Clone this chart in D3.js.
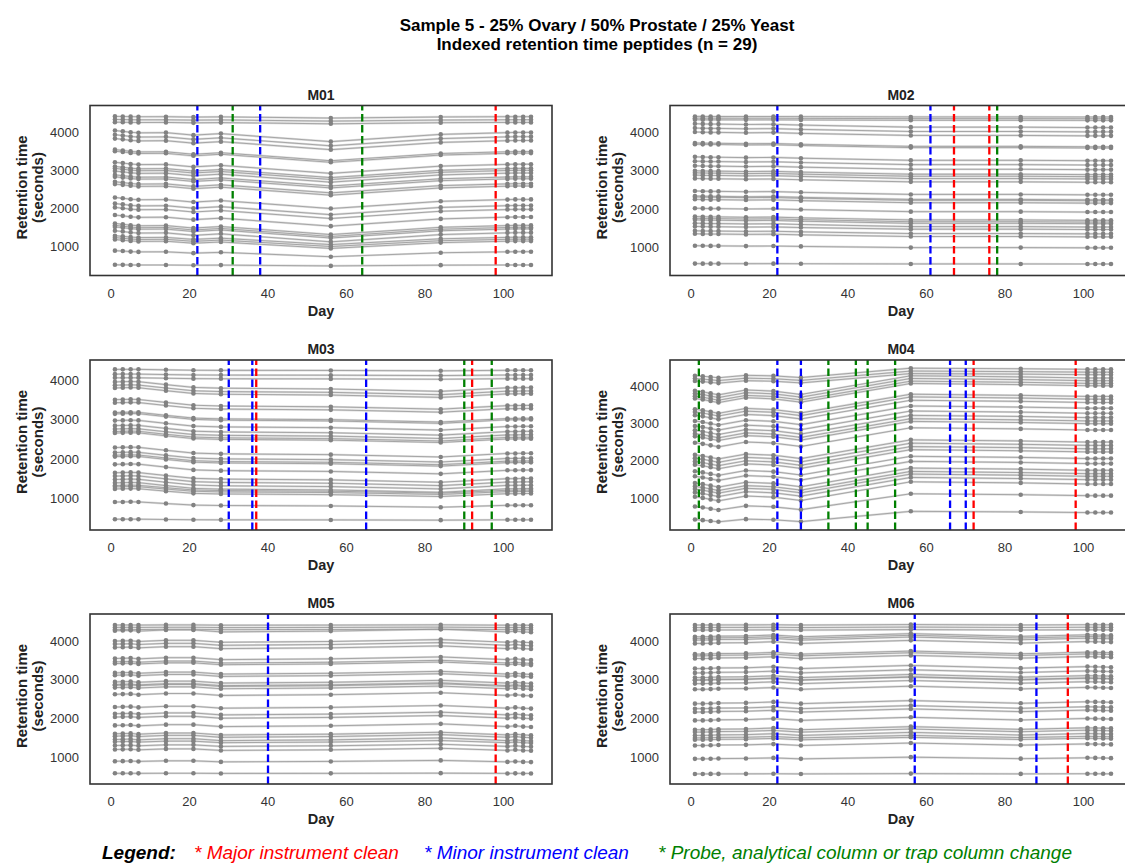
<!DOCTYPE html>
<html>
<head>
<meta charset="utf-8">
<script src="https://cdnjs.cloudflare.com/ajax/libs/d3/7.8.5/d3.min.js"></script>
<style>
body { margin: 0; background: #fff; }
text { font-family: "Liberation Sans", Arial, sans-serif; }
</style>
</head>
<body>
<script>
// sampling days, same for every instrument
var days = [1, 3, 5, 7, 14, 21, 28, 56, 84, 101, 103, 105, 107];

var instruments = ["M01", "M02", "M03", "M04", "M05", "M06"];

// retention time (s) of the 29 iRT peptides on day 1, per instrument
var baseM01 = [4410, 4330, 4260, 4040, 3930, 3830, 3540, 3500, 3210, 3100, 3050, 2980, 2880, 2830, 2700, 2640, 2290, 2130, 2030, 1830, 1610, 1560, 1520, 1420, 1290, 1240, 1190, 900, 530];
var baseM02 = [4425, 4380, 4338, 4234, 4121, 4017, 3731, 3700, 3367, 3254, 3133, 3003, 2950, 2890, 2803, 2474, 2343, 2320, 2257, 2023, 1806, 1760, 1719, 1632, 1546, 1433, 1355, 1043, 574];
var baseM03 = [4273, 4153, 4060, 3957, 3872, 3804, 3506, 3429, 3180, 3148, 2977, 2849, 2764, 2700, 2662, 2295, 2168, 2100, 2065, 1869, 1656, 1571, 1486, 1401, 1333, 1300, 1247, 915, 480];
var baseM04 = [4276, 4200, 4133, 3874, 3802, 3730, 3668, 3381, 3309, 3220, 3067, 2933, 2816, 2727, 2655, 2485, 2162, 2073, 1983, 1900, 1723, 1588, 1409, 1319, 1248, 1158, 1042, 782, 433];
var baseM05 = [4415, 4354, 4300, 4268, 4000, 3922, 3836, 3551, 3464, 3420, 3179, 3118, 2946, 2880, 2859, 2799, 2626, 2297, 2124, 2038, 1822, 1606, 1545, 1459, 1400, 1304, 1200, 897, 585];
var baseM06 = [4415, 4350, 4285, 4112, 4070, 4026, 3939, 3663, 3620, 3551, 3291, 3179, 3058, 3000, 2989, 2902, 2755, 2384, 2254, 2168, 1952, 1710, 1649, 1563, 1500, 1451, 1304, 958, 569];

// drift (s) of the mid-gradient peptides on each sampling day
var shiftM01 = [0, -20, -45, -60, -55, -120, -80, -290, -100, -55, -50, -50, -50];
var shiftM02 = [0, -5, -10, -10, -20, -15, -35, -90, -90, -100, -100, -100, -100];
var shiftM03 = [0, 5, 10, 5, -70, -140, -160, -180, -240, -150, -150, -145, -145];
var shiftM04 = [0, -30, -70, -110, 20, -10, -100, 400, 370, 340, 340, 340, 340];
var shiftM05 = [0, 5, 10, -10, 20, 20, -30, -10, 40, -30, -10, -30, -40];
var shiftM06 = [0, 0, 5, 15, 20, 45, 0, 80, 10, 50, 45, 40, 35];

// how much each peptide follows that drift (ends of the gradient move less)
var weightShared = [0.15, 0.15, 0.15, 1, 1, 1, 1, 1, 1, 1, 1, 1, 1, 1, 1, 1, 1, 1, 1, 1, 1, 1, 1, 1, 0.8, 0.8, 0.8, 0.55, 0.1];
var weightM04 = [0.5, 0.5, 0.5, 1, 1, 1, 1, 1, 1, 1, 1, 1, 1, 1, 1, 1, 1, 1, 1, 1, 1, 1, 1, 1, 1, 1, 1, 0.85, 0.55];

// y limits of each panel
var yLimM01 = [250, 4695], yLimM02 = [263, 4711], yLimM03 = [207, 4511],
    yLimM04 = [154, 4695], yLimM05 = [309, 4700], yLimM06 = [309, 4700];
var xLim = [-5.35, 112.35];
var xTicks = [0, 20, 40, 60, 80, 100];
var yTicks = [1000, 2000, 3000, 4000];

// instrument events (day)
var majorM01 = [98], minorM01 = [22, 38], probeM01 = [31, 64];
var majorM02 = [67, 76], minorM02 = [22, 61], probeM02 = [78];
var majorM03 = [37, 92], minorM03 = [30, 36, 65], probeM03 = [90, 97];
var majorM04 = [72, 98], minorM04 = [22, 28, 66, 70], probeM04 = [2, 35, 42, 45, 52];
var majorM05 = [98], minorM05 = [40], probeM05 = [];
var majorM06 = [96], minorM06 = [22, 57, 88], probeM06 = [];

var panels = [
    {name: "M01", base: baseM01, shift: shiftM01, weight: weightShared, ylim: yLimM01, major: majorM01, minor: minorM01, probe: probeM01},
    {name: "M02", base: baseM02, shift: shiftM02, weight: weightShared, ylim: yLimM02, major: majorM02, minor: minorM02, probe: probeM02},
    {name: "M03", base: baseM03, shift: shiftM03, weight: weightShared, ylim: yLimM03, major: majorM03, minor: minorM03, probe: probeM03},
    {name: "M04", base: baseM04, shift: shiftM04, weight: weightM04, ylim: yLimM04, major: majorM04, minor: minorM04, probe: probeM04},
    {name: "M05", base: baseM05, shift: shiftM05, weight: weightShared, ylim: yLimM05, major: majorM05, minor: minorM05, probe: probeM05},
    {name: "M06", base: baseM06, shift: shiftM06, weight: weightShared, ylim: yLimM06, major: majorM06, minor: minorM06, probe: probeM06}
];

//begin drawing
var width = 1125,
    height = 863;

var svg = d3.select("body")
    .append("svg")
    .attr("width", width)
    .attr("height", height);

//two line title
svg.append("text")
    .attr("x", 597).attr("y", 31)
    .attr("text-anchor", "middle")
    .style("font-size", "17px").style("font-weight", "bold")
    .text("Sample 5 - 25% Ovary / 50% Prostate / 25% Yeast");
svg.append("text")
    .attr("x", 597).attr("y", 50)
    .attr("text-anchor", "middle")
    .style("font-size", "17px").style("font-weight", "bold")
    .text("Indexed retention time peptides (n = 29)");

//panel grid
var colX = [90, 670],
    rowY = [105.5, 360, 614],
    pw = 462,
    ph = 170;

panels.forEach(function(p, i){
    var x0 = colX[i % 2],
        y0 = rowY[Math.floor(i / 2)];

    var x = d3.scaleLinear().domain(xLim).range([x0, x0 + pw]);
    var y = d3.scaleLinear().domain(p.ylim).range([y0 + ph, y0]);

    var g = svg.append("g").attr("class", "panel " + p.name);

    //one series per peptide
    var series = p.base.map(function(b, k){
        return days.map(function(d, j){
            return {day: d, rt: b + p.shift[j] * p.weight[k]};
        });
    });

    var line = d3.line()
        .x(function(d){ return x(d.day); })
        .y(function(d){ return y(d.rt); });

    g.selectAll(".halo")
        .data(series)
        .enter()
        .append("path")
        .attr("class", "halo")
        .attr("d", line)
        .attr("fill", "none")
        .attr("stroke", "#dcdcdc")
        .attr("stroke-width", 2.2);

    g.selectAll(".pep")
        .data(series)
        .enter()
        .append("path")
        .attr("class", "pep")
        .attr("d", line)
        .attr("fill", "none")
        .attr("stroke", "#959595")
        .attr("stroke-opacity", 0.85)
        .attr("stroke-width", 0.9);

    g.selectAll(".pt")
        .data(d3.merge(series))
        .enter()
        .append("circle")
        .attr("class", "pt")
        .attr("cx", function(d){ return x(d.day); })
        .attr("cy", function(d){ return y(d.rt); })
        .attr("r", 2.3)
        .attr("fill", "#828282");

    //event lines
    var events = [];
    p.probe.forEach(function(d){ events.push({day: d, color: "#008000"}); });
    p.minor.forEach(function(d){ events.push({day: d, color: "#0000ff"}); });
    p.major.forEach(function(d){ events.push({day: d, color: "#ff0000"}); });

    g.selectAll(".event")
        .data(events)
        .enter()
        .append("line")
        .attr("class", "event")
        .attr("x1", function(d){ return x(d.day); })
        .attr("x2", function(d){ return x(d.day); })
        .attr("y1", y0 + ph)
        .attr("y2", y0)
        .attr("stroke", function(d){ return d.color; })
        .attr("stroke-width", 2.3)
        .attr("stroke-dasharray", "7.5,3.5");

    //frame
    g.append("rect")
        .attr("x", x0).attr("y", y0)
        .attr("width", pw).attr("height", ph)
        .attr("fill", "none")
        .attr("stroke", "#333")
        .attr("stroke-width", 1.6);

    //tick labels (no tick marks)
    g.selectAll(".xt")
        .data(xTicks)
        .enter()
        .append("text")
        .attr("x", function(d){ return x(d); })
        .attr("y", y0 + ph + 22)
        .attr("text-anchor", "middle")
        .style("font-size", "13px")
        .attr("fill", "#333")
        .text(function(d){ return d; });

    g.selectAll(".yt")
        .data(yTicks)
        .enter()
        .append("text")
        .attr("x", x0 - 11)
        .attr("y", function(d){ return y(d) + 4.5; })
        .attr("text-anchor", "end")
        .style("font-size", "13px")
        .attr("fill", "#333")
        .text(function(d){ return d; });

    //titles and axis labels
    g.append("text")
        .attr("x", x0 + pw / 2).attr("y", y0 - 6)
        .attr("text-anchor", "middle")
        .style("font-size", "14px").style("font-weight", "bold")
        .attr("fill", "#222")
        .text(p.name);

    g.append("text")
        .attr("x", x0 + pw / 2).attr("y", y0 + ph + 40)
        .attr("text-anchor", "middle")
        .style("font-size", "14.5px").style("font-weight", "bold")
        .attr("fill", "#222")
        .text("Day");

    var yl = g.append("text")
        .attr("transform", "translate(" + (x0 - 63) + "," + (y0 + ph / 2 - 3) + ") rotate(-90)")
        .attr("text-anchor", "middle")
        .style("font-size", "15px").style("font-weight", "bold")
        .attr("fill", "#222");
    yl.append("tspan").attr("x", 0).attr("y", 0).text("Retention time");
    yl.append("tspan").attr("x", 0).attr("y", 16).text("(seconds)");
});

//legend along the bottom
var legend = [
    {label: "Legend:", color: "#000", x: 102, bold: true},
    {label: "* Major instrument clean", color: "#ff0000", x: 194, bold: false},
    {label: "* Minor instrument clean", color: "#0000ff", x: 424, bold: false},
    {label: "* Probe, analytical column or trap column change", color: "#008000", x: 658, bold: false}
];

svg.selectAll(".legend")
    .data(legend)
    .enter()
    .append("text")
    .attr("class", "legend")
    .attr("x", function(d){ return d.x; })
    .attr("y", 859)
    .style("font-size", "19px")
    .style("font-style", "italic")
    .style("font-weight", function(d){ return d.bold ? "bold" : "normal"; })
    .attr("fill", function(d){ return d.color; })
    .text(function(d){ return d.label; });
</script>
</body>
</html>
